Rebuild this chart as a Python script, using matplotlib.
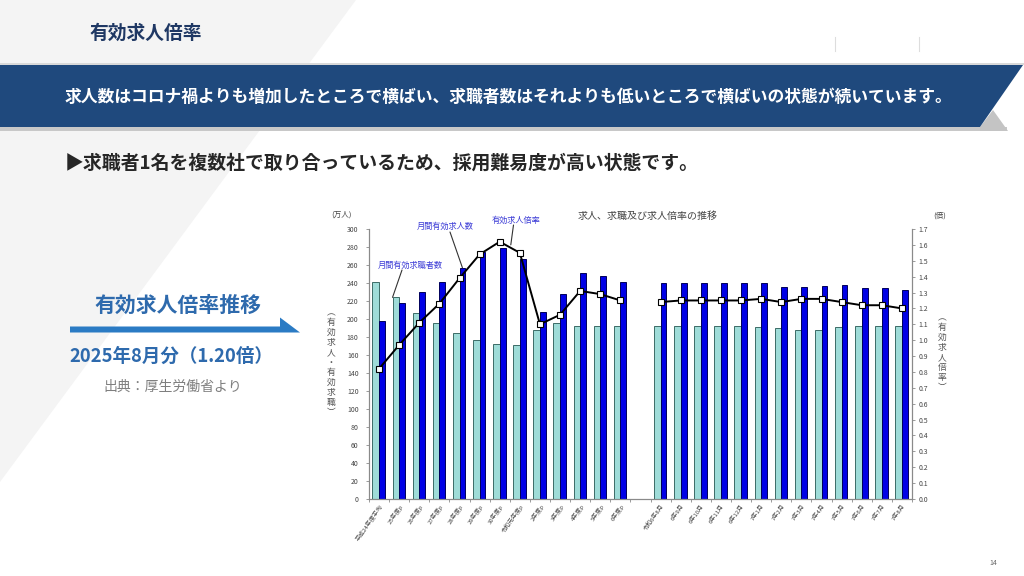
import matplotlib
matplotlib.use('Agg')
import matplotlib.pyplot as plt
from matplotlib.patches import Polygon
import numpy as np

plt.rcParams['font.family'] = ['Noto Sans CJK JP', 'DejaVu Sans']

# ---------------- data ----------------
annual_labels = ['平成24年度平均', '25年度p', '26年度p', '27年度p', '28年度p', '29年度p',
                 '30年度p', '令和元年度p', '2年度p', '3年度p', '4年度p', '5年度p', '6年度p']
monthly_labels = ['令和6年8月', '6年9月', '6年10月', '6年11月', '6年12月', '7年1月', '7年2月',
                  '7年3月', '7年4月', '7年5月', '7年6月', '7年7月', '7年8月']
annual_seekers = [241, 224, 207, 196, 184, 177, 172, 171, 188, 196, 192, 192, 192]
annual_offers = [198, 218, 230, 241, 257, 274, 279, 267, 208, 228, 251, 248, 241]
annual_ratio = [0.82, 0.97, 1.11, 1.23, 1.39, 1.54, 1.62, 1.55, 1.10, 1.16, 1.31, 1.29, 1.25]
monthly_seekers = [192, 192, 192, 192, 192, 191, 190, 188, 188, 191, 192, 192, 192]
monthly_offers = [240, 240, 240, 240, 240, 240, 236, 236, 237, 238, 235, 235, 232]
monthly_ratio = [1.24, 1.25, 1.25, 1.25, 1.25, 1.26, 1.24, 1.26, 1.26, 1.24, 1.22, 1.22, 1.20]

left_ticks = list(range(0, 301, 20))
right_ticks = [round(0.1 * i, 1) for i in range(18)]

# ---------------- figure ----------------
W, H = 1024, 576
fig = plt.figure(figsize=(W / 100, H / 100), dpi=100)
fig.patch.set_facecolor('white')
bg = fig.add_axes([0, 0, 1, 1])
bg.set_xlim(0, W)
bg.set_ylim(H, 0)
bg.axis('off')

# diagonal light-gray background
bg.add_patch(Polygon([(0, 0), (356, 0), (0, 482)], closed=True, fc='#f4f4f4', ec='none', zorder=0))

# header title
bg.text(90, 33, '有効求人倍率', fontsize=13.5, fontweight='bold', color='#1f3864',
        ha='left', va='center')
for xv in (835, 919):
    bg.plot([xv, xv], [37, 51], color='#dddddd', lw=0.8)

# banner
bg.add_patch(Polygon([(0, 62.5), (1024, 62.5), (1024, 65), (0, 65)], closed=True,
                     fc='#d9d9d9', ec='none', zorder=1))
bg.add_patch(Polygon([(0, 127), (1007, 127), (1007, 131), (0, 131)], closed=True,
                     fc='#c8c8c8', ec='none', zorder=1))
bg.add_patch(Polygon([(980, 127), (993, 110), (1008, 131), (980, 131)], closed=True,
                     fc='#c4c4c4', ec='none', zorder=1))
bg.add_patch(Polygon([(0, 65), (1023, 65), (980, 127), (0, 127)], closed=True,
                     fc='#1f497d', ec='none', zorder=2))
bg.text(508, 96.5, '求人数はコロナ禍よりも増加したところで横ばい、求職者数はそれよりも低いところで横ばいの状態が続いています。',
        fontsize=12.1, fontweight='bold', color='white', ha='center', va='center', zorder=3)

# subtitle
bg.text(65, 163, '▶求職者1名を複数社で取り合っているため、採用難易度が高い状態です。',
        fontsize=13.6, fontweight='bold', color='#262626', ha='left', va='center',
        family=['Noto Sans CJK JP', 'DejaVu Sans'])

# left panel
bg.text(178, 305, '有効求人倍率推移', fontsize=15, fontweight='bold', color='#2e6aad',
        ha='center', va='center')
bg.add_patch(Polygon([(70, 326.5), (280, 326.5), (280, 317.5), (300, 332.5), (70, 332.5)],
                     closed=True, fc='#2b7bc4', ec='none'))
bg.text(171, 356.5, '2025年8月分（1.20倍）', fontsize=13.3, fontweight='bold', color='#2e6aad',
        ha='center', va='center')
bg.text(173, 387, '出典：厚生労働省より', fontsize=10, color='#7f7f7f', ha='center', va='center')

bg.text(993, 563, '14', fontsize=5, color='#666666', ha='center', va='center')

# ---------------- chart ----------------
x0, x1, y0, y1 = 369, 912, 229, 499
ax = fig.add_axes([x0 / W, 1 - y1 / H, (x1 - x0) / W, (y1 - y0) / H])
ax.patch.set_alpha(0)
ax2 = ax.twinx()

pos_a = np.arange(13)
pos_m = np.arange(14, 27)
positions = list(pos_a) + list(pos_m)
labels = annual_labels + monthly_labels

light_c, light_e = '#9fdcd8', '#3c6b66'
blue_c, blue_e = '#0000e6', '#00005a'
wl, wb = 0.33, 0.29
for pos, seek, off in ((pos_a, annual_seekers, annual_offers), (pos_m, monthly_seekers, monthly_offers)):
    ax.bar(pos, seek, width=-wl, align='edge', color=light_c, edgecolor=light_e, lw=0.7, zorder=2)
    ax.bar(pos, off, width=wb, align='edge', color=blue_c, edgecolor=blue_e, lw=0.7, zorder=2)

for pos, r in ((pos_a, annual_ratio), (pos_m, monthly_ratio)):
    ax2.plot(pos, r, color='black', lw=1.4, marker='s', ms=4.3, mfc='white', mec='black',
             mew=0.8, zorder=3)

ax.set_xlim(-0.5, 26.5)
ax.set_ylim(0, 300)
ax2.set_ylim(0, 1.7)

for a in (ax, ax2):
    a.spines['top'].set_visible(False)
    for s in ('left', 'right', 'bottom'):
        a.spines[s].set_color('#8a8a8a')
        a.spines[s].set_linewidth(0.8)

ax.set_yticks(left_ticks)
ax.set_yticklabels([str(v) for v in left_ticks])
ax.tick_params(axis='y', direction='out', length=2.5, width=0.6, color='#8a8a8a',
               labelsize=5, labelcolor='#444444', pad=5)
ax2.set_yticks(right_ticks)
ax2.set_yticklabels([f'{v:.1f}' for v in right_ticks])
ax2.tick_params(axis='y', direction='out', length=2.5, width=0.6, color='#8a8a8a',
                labelsize=5, labelcolor='#444444', pad=2)

ax.set_xticks(positions)
ax.set_xticklabels(labels, rotation=55, ha='right', va='top', rotation_mode='anchor',
                   fontsize=4.3, color='#444444')
ax.tick_params(axis='x', length=0, pad=3)
ax.set_xticks(np.arange(-0.5, 27, 1.0), minor=True)
ax.tick_params(axis='x', which='minor', length=1.8, width=0.6, color='#8a8a8a')

# axis captions
bg.text(341, 215, '(万人)', fontsize=5.5, color='#444444', ha='center', va='center')
bg.text(940, 216, '(倍)', fontsize=5.5, color='#444444', ha='center', va='center')
bg.text(648, 216, '求人、求職及び求人倍率の推移', fontsize=7.2, color='#444444',
        ha='center', va='center')

left_cap = list('︵有効求人・有効求職︶')
for i, ch in enumerate(left_cap):
    bg.text(331, 313 + i * 9.9, ch, fontsize=6.3, color='#555555', ha='center', va='center')
right_cap = list('︵有効求人倍率︶')
for i, ch in enumerate(right_cap):
    bg.text(942, 318 + i * 9.9, ch, fontsize=6.3, color='#555555', ha='center', va='center')

# series annotations
ann_c = '#3b3bd6'
bg.text(410, 265, '月間有効求職者数', fontsize=5.9, color=ann_c, ha='center', va='center')
bg.text(445, 226.5, '月間有効求人数', fontsize=5.9, color=ann_c, ha='center', va='center')
bg.text(516, 220.5, '有効求人倍率', fontsize=5.9, color=ann_c, ha='center', va='center')
ax.annotate('', xy=(1 - wl, annual_seekers[1]), xycoords='data', xytext=(402, 270),
            textcoords=bg.transData,
            arrowprops=dict(arrowstyle='-', color='#333333', lw=0.8, shrinkA=0, shrinkB=0))
ax.annotate('', xy=(4 + wb / 2, annual_offers[4]), xycoords='data', xytext=(450, 232),
            textcoords=bg.transData,
            arrowprops=dict(arrowstyle='-', color='#333333', lw=0.8, shrinkA=0, shrinkB=0))
ax2.annotate('', xy=(6.55, 1.60), xycoords='data', xytext=(513.5, 225),
             textcoords=bg.transData,
             arrowprops=dict(arrowstyle='-', color='#333333', lw=0.8, shrinkA=0, shrinkB=0))

fig.savefig('out.png', dpi=100)
